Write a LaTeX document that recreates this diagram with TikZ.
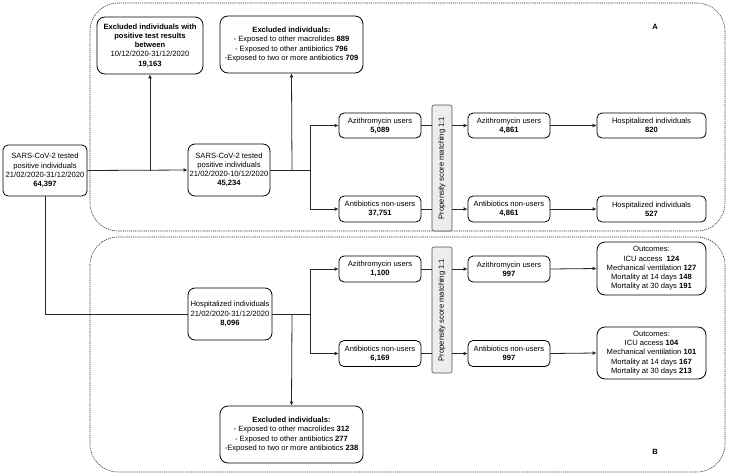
\documentclass[tikz,border=0pt]{standalone}
\usepackage{fontspec}
\setmainfont{Liberation Sans}
\usetikzlibrary{arrows.meta}
\begin{document}
\begin{tikzpicture}[x=1pt,y=-1pt,
  box/.style={draw=black, line width=0.8pt, rounded corners=5pt, align=center, inner sep=0.5pt,
    font=\fontsize{7.6}{9.2}\selectfont, fill=white},
  psbox/.style={draw=black!70, line width=0.6pt, rounded corners=2pt, fill=black!7,
    minimum width=20pt, minimum height=126pt, inner sep=0pt},
  cont/.style={draw=black!80, line width=0.6pt, dash pattern=on 1.2pt off 0.9pt, rounded corners=28pt},
  ln/.style={draw=black!85, line width=0.8pt},
  arr/.style={ln, -{Latex[length=4pt,width=4pt]}},
  lab/.style={font=\bfseries\fontsize{7.6}{9}\selectfont}
]
\useasboundingbox (0,0) rectangle (729,475);
% containers
\draw[cont] (90,3) rectangle (725,231);
\draw[cont] (90,237) rectangle (725,472);
\node[lab] (labA) at (655,27) {A};
\node[lab] (labB) at (655,452) {B};

% nodes part A
\node[box, minimum width=84pt, minimum height=51pt] (tot) at (45,170.5)
  {SARS-CoV-2 tested\\positive individuals\\21/02/2020-31/12/2020\\\textbf{64,397}};
\node[box, rounded corners=8pt, minimum width=106pt, minimum height=57pt] (ex1) at (150,45.5)
  {\textbf{Excluded individuals with}\\\textbf{positive test results}\\\textbf{between}\\10/12/2020-31/12/2020\\\textbf{19,163}};
\node[box, rounded corners=7pt, minimum width=82pt, minimum height=52pt] (pos) at (229,170)
  {SARS-CoV-2 tested\\positive individuals\\21/02/2020-10/12/2020\\\textbf{45,234}};
\node[box, rounded corners=8pt, minimum width=143pt, minimum height=57pt] (ex2) at (291.5,44.5)
  {\textbf{Excluded individuals:}\\- Exposed to other macrolides \textbf{889}\\- Exposed to other antibiotics \textbf{796}\\-Exposed to two or more antibiotics \textbf{709}};
\node[box, minimum width=82pt, minimum height=25pt] (azA) at (380,125.5)
  {Azithromycin users\\\textbf{5,089}};
\node[box, minimum width=82pt, minimum height=26pt] (nuA) at (380,209)
  {Antibiotics non-users\\\textbf{37,751}};
\node[psbox] (psA) at (442,168)
  {\rotatebox{90}{\fontsize{7.6}{9}\selectfont Propensity score matching 1:1}};
\node[box, minimum width=82pt, minimum height=25pt] (azA2) at (509,125.5)
  {Azithromycin users\\\textbf{4,861}};
\node[box, minimum width=82pt, minimum height=26pt] (nuA2) at (509,209)
  {Antibiotics non-users\\\textbf{4,861}};
\node[box, minimum width=109pt, minimum height=25pt] (hoA1) at (651.5,125.5)
  {Hospitalized individuals\\\textbf{820}};
\node[box, minimum width=109pt, minimum height=26pt] (hoA2) at (651.5,209)
  {Hospitalized individuals\\\textbf{527}};

% nodes part B
\node[box, rounded corners=7pt, minimum width=84pt, minimum height=52pt] (hosp) at (230,314)
  {Hospitalized individuals\\21/02/2020-31/12/2020\\\textbf{8,096}};
\node[box, minimum width=82pt, minimum height=26pt] (azB) at (380,269)
  {Azithromycin users\\\textbf{1,100}};
\node[box, minimum width=82pt, minimum height=26pt] (nuB) at (380,353.5)
  {Antibiotics non-users\\\textbf{6,169}};
\node[psbox] (psB) at (442,310)
  {\rotatebox{90}{\fontsize{7.6}{9}\selectfont Propensity score matching 1:1}};
\node[box, minimum width=82pt, minimum height=26pt] (azB2) at (509,269)
  {Azithromycin users\\\textbf{997}};
\node[box, minimum width=82pt, minimum height=26pt] (nuB2) at (509,353.5)
  {Antibiotics non-users\\\textbf{997}};
\node[box, rounded corners=8pt, minimum width=109pt, minimum height=53pt] (ocB1) at (651.5,268.5)
  {Outcomes:\\ICU access\ \ \textbf{124}\\Mechanical ventilation \textbf{127}\\Mortality at 14 days \textbf{148}\\Mortality at 30 days \textbf{191}};
\node[box, rounded corners=8pt, minimum width=109pt, minimum height=52pt] (ocB2) at (651.5,353)
  {Outcomes:\\ICU access \textbf{104}\\Mechanical ventilation \textbf{101}\\Mortality at 14 days \textbf{167}\\Mortality at 30 days \textbf{213}};
\node[box, rounded corners=8pt, minimum width=143pt, minimum height=57pt] (ex3) at (291.5,434.5)
  {\textbf{Excluded individuals:}\\- Exposed to other macrolides \textbf{312}\\- Exposed to other antibiotics \textbf{277}\\-Exposed to two or more antibiotics \textbf{238}};

% junction coordinates
\coordinate (j1) at (150,170.5);
\coordinate (eA) at (292,170);
\coordinate (jA) at (310,170);
\coordinate (cB) at (45,314);
\coordinate (eB) at (292,314);
\coordinate (jB) at (310,314);

% connectors part A
\draw[arr] (tot.east) -- (pos.west);
\draw[arr] (j1) -- (ex1.south);
\draw[ln] (pos.east) -- (jA);
\draw[arr] (eA) -- (ex2.south);
\draw[arr] (jA) |- (azA.west);
\draw[arr] (jA) |- (nuA.west);
\draw[ln] (azA.east) -- (azA.east -| psA.west);
\draw[ln] (nuA.east) -- (nuA.east -| psA.west);
\draw[arr] (azA2.west -| psA.east) -- (azA2.west);
\draw[arr] (nuA2.west -| psA.east) -- (nuA2.west);
\draw[arr] (azA2.east) -- (hoA1.west);
\draw[arr] (nuA2.east) -- (hoA2.west);

% connectors part B
\draw[ln] (tot.south) -- (cB) -- (hosp.west);
\draw[ln] (hosp.east) -- (jB);
\draw[arr] (eB) -- (ex3.north);
\draw[arr] (jB) |- (azB.west);
\draw[arr] (jB) |- (nuB.west);
\draw[ln] (azB.east) -- (azB.east -| psB.west);
\draw[ln] (nuB.east) -- (nuB.east -| psB.west);
\draw[arr] (azB2.west -| psB.east) -- (azB2.west);
\draw[arr] (nuB2.west -| psB.east) -- (nuB2.west);
\draw[arr] (azB2.east) -- (ocB1.west);
\draw[arr] (nuB2.east) -- (ocB2.west);
\end{tikzpicture}
\end{document}
